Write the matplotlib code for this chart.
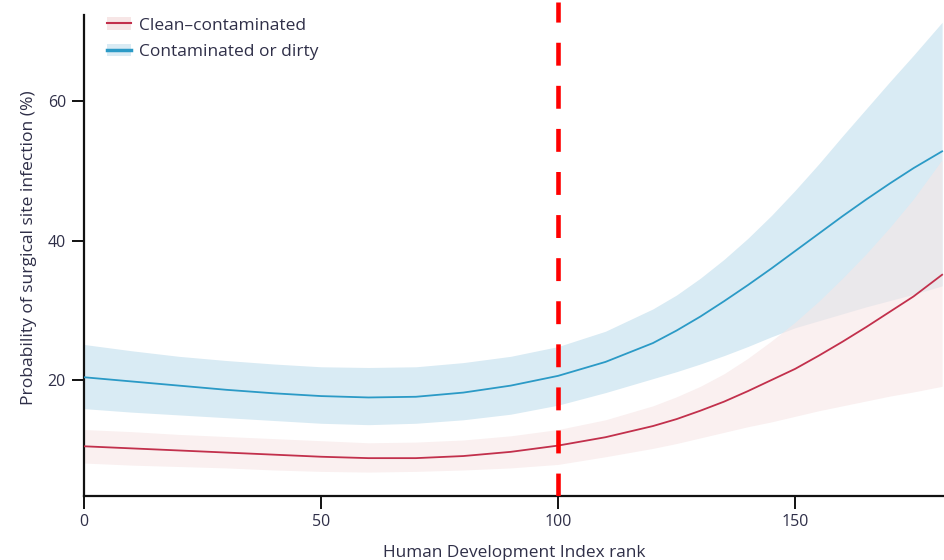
import matplotlib
matplotlib.use("Agg")
import matplotlib.pyplot as plt
from matplotlib.lines import Line2D
from matplotlib.patches import Patch

# ---------------------------------------------------------------------------
# Data (HDI rank vs probability of SSI, %)
# ---------------------------------------------------------------------------

hdi_rank = [0, 10, 20, 30, 40, 50, 60, 70, 80, 90, 100,
            110, 120, 125, 130, 135, 140, 145, 150, 155, 160, 165, 170, 175, 181]

dirty_mid = [20.4, 19.8, 19.2, 18.6, 18.1, 17.7, 17.5, 17.6, 18.2, 19.2, 20.6,
             22.6, 25.3, 27.1, 29.1, 31.3, 33.6, 36.0, 38.5, 41.0, 43.5,
             45.9, 48.2, 50.4, 52.8]
dirty_hi = [25.1, 24.2, 23.4, 22.8, 22.3, 21.9, 21.8, 21.9, 22.5, 23.4, 24.8,
            27.0, 30.2, 32.2, 34.6, 37.3, 40.3, 43.6, 47.2, 51.0, 55.0,
            58.9, 62.8, 66.6, 71.3]
dirty_lo = [15.9, 15.4, 15.0, 14.6, 14.2, 13.8, 13.6, 13.8, 14.3, 15.1, 16.4,
            18.2, 20.2, 21.2, 22.3, 23.5, 24.8, 26.2, 27.5, 28.5, 29.5,
            30.5, 31.4, 32.3, 33.5]

clean_mid = [10.5, 10.2, 9.9, 9.6, 9.3, 9.0, 8.8, 8.8, 9.1, 9.7, 10.6,
             11.8, 13.4, 14.4, 15.6, 16.9, 18.4, 20.0, 21.6, 23.5, 25.5,
             27.6, 29.8, 32.0, 35.1]
clean_hi = [12.9, 12.6, 12.2, 11.9, 11.6, 11.3, 11.0, 11.1, 11.4, 12.0, 12.9,
            14.3, 16.3, 17.6, 19.1, 20.9, 23.1, 25.6, 28.3, 31.3, 34.6,
            38.1, 41.9, 46.0, 51.6]
clean_lo = [8.1, 7.8, 7.6, 7.4, 7.1, 6.9, 6.8, 6.9, 7.1, 7.4, 7.9,
            9.0, 10.2, 10.9, 11.7, 12.5, 13.3, 14.0, 14.8, 15.6, 16.3,
            17.0, 17.7, 18.3, 19.1]

x_ticks = [0, 50, 100, 150]
y_ticks = [20, 40, 60]
cutoff_rank = 100

# ---------------------------------------------------------------------------
# Style
# ---------------------------------------------------------------------------

TEXT = "#2f2f48"
BLUE = "#2b9ac6"
BLUE_BAND = "#d9ebf4"
RED = "#c2304c"
PINK_BAND = "#f7e6e6"

plt.rcParams["font.family"] = ["Open Sans", "DejaVu Sans"]

fig = plt.figure(figsize=(9.44, 5.6), dpi=100)
ax = fig.add_axes([84 / 944, 1 - 496 / 560, 1 - 84 / 944, 496 / 560])

ax.fill_between(hdi_rank, dirty_lo, dirty_hi, color=BLUE_BAND, lw=0, zorder=1)
ax.fill_between(hdi_rank, clean_lo, clean_hi, color=PINK_BAND, alpha=0.6,
                lw=0, zorder=2)
ax.plot(hdi_rank, dirty_mid, color=BLUE, lw=1.3, zorder=3)
ax.plot(hdi_rank, clean_mid, color=RED, lw=1.3, zorder=3)

ax.axvline(cutoff_rank, ymax=0.995, color="#ff0000", lw=3.3,
           dashes=(5, 4.4), zorder=4)

ax.set_xlim(0, 181.4)
ax.set_ylim(3.37, 74.5)
ax.set_xticks(x_ticks)
ax.set_yticks(y_ticks)

for side in ("top", "right"):
    ax.spines[side].set_visible(False)
for side in ("left", "bottom"):
    ax.spines[side].set_linewidth(1.6)
    ax.spines[side].set_color("#111111")
ax.spines["left"].set_bounds(3.37, 72.3)

ax.tick_params(direction="out", length=9, width=1.4, color="#111111",
               labelsize=11.5, labelcolor=TEXT, pad=4)

ax.set_xlabel("Human Development Index rank", fontsize=12.4, color=TEXT,
              labelpad=11)
ax.set_ylabel("Probability of surgical site infection (%)", fontsize=12.6,
              color=TEXT, labelpad=8)

handles = [
    (Patch(facecolor=PINK_BAND, edgecolor="none"),
     Line2D([], [], color=RED, lw=1.5)),
    (Patch(facecolor=BLUE_BAND, edgecolor="none"),
     Line2D([], [], color=BLUE, lw=2.5)),
]
leg = ax.legend(handles, ["Clean\u2013contaminated", "Contaminated or dirty"],
                loc="upper left", bbox_to_anchor=(0.007, 1.0), frameon=False,
                fontsize=12.5, handlelength=1.35, handletextpad=0.45,
                labelspacing=0.6, borderaxespad=0.6)
for t in leg.get_texts():
    t.set_color(TEXT)

fig.savefig("out.png", dpi=100)
